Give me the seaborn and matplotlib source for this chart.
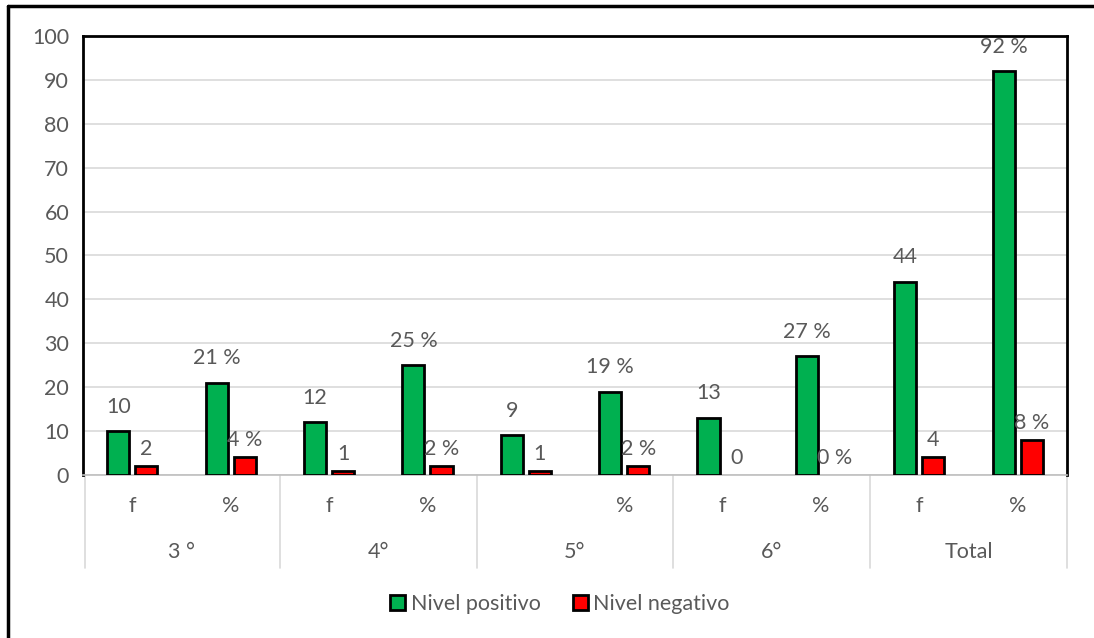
import pandas as pd
import matplotlib
matplotlib.use("Agg")
import matplotlib.pyplot as plt
from matplotlib.lines import Line2D
import seaborn as sns

# Data
grupos = ["3 °", "4°", "5°", "6°", "Total"]
sub = ["f", "%", "f", "%", "", "%", "f", "%", "f", "%"]
sub_tipo = ["f", "%", "f", "%", "f", "%", "f", "%", "f", "%"]
positivo = [10, 21, 12, 25, 9, 19, 13, 27, 44, 92]
negativo = [2, 4, 1, 2, 1, 2, 0, 0, 4, 8]
series = ["Nivel positivo", "Nivel negativo"]
colores = ["#00B050", "#FF0000"]

# Long table for seaborn
pos = [f"c{i}" for i in range(len(positivo))]
df = pd.DataFrame({
    "pos": pos * 2,
    "valor": positivo + negativo,
    "nivel": [series[0]] * len(pos) + [series[1]] * len(pos),
})

sns.set_style("white")
plt.rcParams["font.family"] = ["Lato", "DejaVu Sans"]
gris = "#595959"
fs = 15.5

fig = plt.figure(figsize=(10.94, 6.38), dpi=100)
ax = fig.add_axes([0.0759, 0.2555, 0.8994, 0.6881])

sns.barplot(data=df, x="pos", y="valor", hue="nivel", palette=colores,
            saturation=1, width=0.57, gap=0.21, edgecolor="black",
            linewidth=2, ax=ax, zorder=3)

# data labels
for cont, vals, pad in zip(ax.containers, [positivo, negativo], [10.5, 5]):
    labs = [f"{v}" if t == "f" else f"{v} %" for v, t in zip(vals, sub_tipo)]
    ax.bar_label(cont, labels=labs, padding=pad, fontsize=fs, color=gris)
    for bar, v in zip(cont, vals):
        if v == 0:
            bar.set_linewidth(0)

ax.set_ylim(0, 100)
ax.set_xlim(-0.5, len(pos) - 0.5)
ax.set_yticks(range(0, 101, 10))
ax.tick_params(axis="y", length=0, labelsize=fs, labelcolor=gris, pad=10)
ax.yaxis.grid(True, color="#D9D9D9", linewidth=1.2, zorder=0)
ax.set_axisbelow(True)
ax.set_xlabel("")
ax.set_ylabel("")
ax.set_xticks([])

for s in ["left", "top", "right"]:
    ax.spines[s].set_color("black")
    ax.spines[s].set_linewidth(2)
ax.spines["bottom"].set_color("#BFBFBF")
ax.spines["bottom"].set_linewidth(1.2)

# multi-level category axis
trans = ax.get_xaxis_transform()
for i, s in enumerate(sub):
    ax.text(i, -0.07, s, transform=trans, ha="center", va="center",
            fontsize=fs, color=gris)
for g, name in enumerate(grupos):
    ax.text(2 * g + 0.5, -0.175, name, transform=trans, ha="center",
            va="center", fontsize=fs, color=gris)
for b in [-0.48, 1.5, 3.5, 5.5, 7.5, 9.5]:
    ax.plot([b, b], [0, -0.212], transform=trans, color="#D9D9D9",
            linewidth=1.2, clip_on=False)

# legend
handles, labels = ax.get_legend_handles_labels()
ax.get_legend().remove()
fig.legend(handles, labels, loc="center", bbox_to_anchor=(0.512, 0.053),
           ncol=2, frameon=False, fontsize=fs, labelcolor=gris,
           handlelength=0.7, handleheight=0.7, handletextpad=0.25,
           columnspacing=1.5)

# outer chart border (left and top only visible)
fig.add_artist(Line2D([8 / 1094, 8 / 1094], [0, 1 - 6 / 638],
                      color="black", linewidth=2.5))
fig.add_artist(Line2D([8 / 1094, 1], [1 - 6 / 638, 1 - 6 / 638],
                      color="black", linewidth=2.5))

fig.savefig("out.png", dpi=100)
